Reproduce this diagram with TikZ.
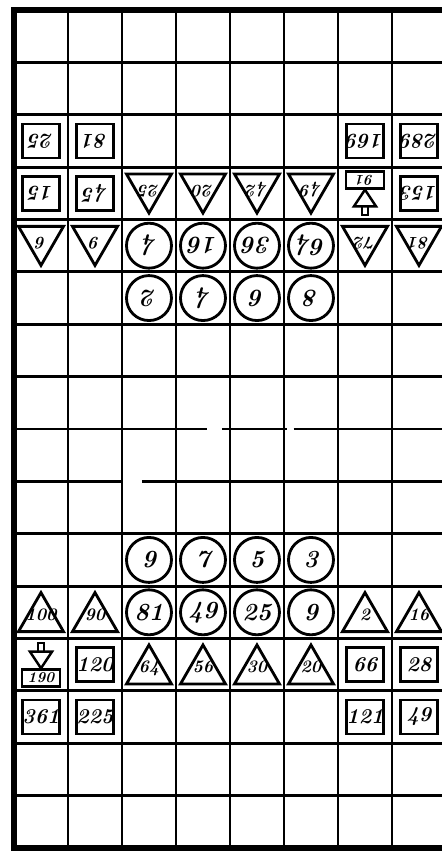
\documentclass[tikz,border=0pt]{standalone}
\usetikzlibrary{shapes.geometric}

\newcommand{\tnum}[1]{\makebox[0pt]{\raisebox{\dimexpr0.8mm-0.5\height}[0pt][0pt]{#1}}}
\newcommand{\pyramid}[4]{%
  \begin{scope}[shift={#2}, x=1cm, y=1cm, rotate=#3]
    \node[pyrbox, rotate=#3] (#1) at (0,-0.27) {#4};
    \draw[line width=1.4pt] (#1.north) -- (-0.22,0.26) -- (0.22,0.26) -- cycle;
    \draw[line width=1.4pt] (-0.06,0.26) -- (-0.06,0.43) -- (0.06,0.43) -- (0.06,0.26);
  \end{scope}}

\begin{document}
\begin{tikzpicture}[x=1.08cm, y=-1.0475cm,
    grid/.style={line width=1.6pt},
    border/.style={line width=3.4pt},
    piece/.style={draw, fill=white, line width=1.6pt, inner sep=0pt},
    sqpiece/.style={piece, minimum width=0.74cm, minimum height=0.68cm, font=\fontsize{12}{13}\selectfont\bfseries\itshape},
    cpiece/.style={piece, circle, minimum size=0.9cm, font=\fontsize{14}{14}\selectfont\bfseries\itshape},
    tpiece/.style={piece, regular polygon, regular polygon sides=3, minimum size=1.04cm, font=\fontsize{10}{10}\selectfont\bfseries\itshape},
    pyrbox/.style={piece, minimum width=0.76cm, minimum height=0.34cm, font=\fontsize{8.5}{9}\selectfont\bfseries\itshape}]
  \useasboundingbox (-0.259,-0.191) rectangle (7.926,16.153);
  \clip (-0.259,-0.191) rectangle (7.926,16.153);

  % board
  \foreach \r in {1,2,3,4,5,6,7,10,11,12,13,14,15}
    \draw[grid] (0,\r) -- (8,\r);
  \draw[grid] (0,8) -- (3.57,8) (3.85,8) -- (5.05,8) (5.18,8) -- (8,8);
  \draw[grid] (0,9) -- (2,9) (2.37,9) -- (8,9);
  \foreach \c in {1,...,7}
    \draw[grid] (\c,0) -- (\c,16);
  \draw[border] (8,0) -- (0,0) -- (0,16) -- (8,16);

  % upper side
  \foreach \c/\r/\n in {0/2/25, 1/2/81, 6/2/169, 7/2/289, 0/3/15, 1/3/45, 7/3/153}
    \node[sqpiece, rotate=180] (s\c\r) at (\c+0.5,\r+0.5) {\n};
  \foreach \c/\r/\n in {2/3/25, 3/3/20, 4/3/42, 5/3/49, 0/4/6, 1/4/9, 6/4/72, 7/4/81}
    \node[tpiece, rotate=180] (t\c\r) at (\c+0.5,\r+0.38) {\tnum{\n}};
  \foreach \c/\r/\n in {2/4/4, 3/4/16, 4/4/36, 5/4/64, 2/5/2, 3/5/4, 4/5/6, 5/5/8}
    \node[cpiece, rotate=180] (c\c\r) at (\c+0.5,\r+0.5) {\n};
  \pyramid{p63}{(6.5,3.5)}{180}{91}

  % lower side
  \foreach \c/\r/\n in {2/10/9, 3/10/7, 4/10/5, 5/10/3, 2/11/81, 3/11/49, 4/11/25, 5/11/9}
    \node[cpiece] (c\c\r) at (\c+0.5,\r+0.5) {\n};
  \foreach \c/\r/\n in {0/11/100, 1/11/90, 6/11/2, 7/11/16, 2/12/64, 3/12/56, 4/12/30, 5/12/20}
    \node[tpiece] (t\c\r) at (\c+0.5,\r+0.62) {\tnum{\n}};
  \foreach \c/\r/\n in {1/12/120, 6/12/66, 7/12/28, 0/13/361, 1/13/225, 6/13/121, 7/13/49}
    \node[sqpiece] (s\c\r) at (\c+0.5,\r+0.5) {\n};
  \pyramid{p012}{(0.5,12.5)}{0}{190}
\end{tikzpicture}
\end{document}
